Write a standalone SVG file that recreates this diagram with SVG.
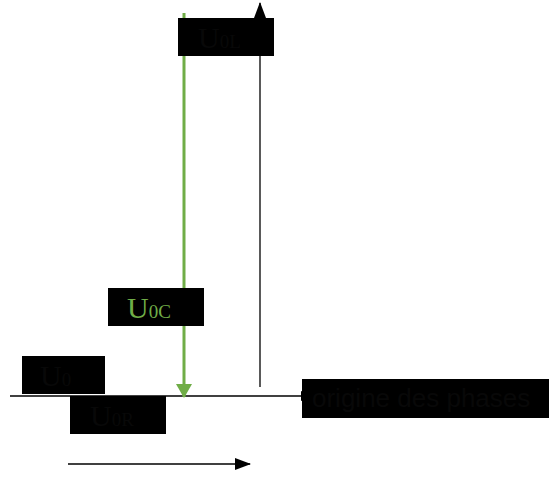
<svg xmlns="http://www.w3.org/2000/svg" width="549" height="477" viewBox="0 0 549 477">
<style>
.box{fill:#000}
.lbl{font-family:"Liberation Serif","Times New Roman",serif;font-size:30px;fill:#080808}
.sub{font-size:19px}
.sans{font-family:"Liberation Sans",Arial,sans-serif;font-size:26px;fill:#080808}
.ln{stroke:#000;stroke-width:1.3;fill:none}
.gr{stroke:#70AD47;stroke-width:3;fill:none}
</style>
<defs>
<marker id="ab" markerWidth="12" markerHeight="10" refX="11" refY="5" orient="auto" markerUnits="userSpaceOnUse"><path d="M0,0 L12,5 L0,10 Z" fill="#000"/></marker>
<marker id="ab2" markerWidth="16" markerHeight="12" refX="15" refY="6" orient="auto" markerUnits="userSpaceOnUse"><path d="M0,0 L16,6 L0,12 Z" fill="#000"/></marker>
<marker id="ag" markerWidth="14" markerHeight="16" refX="13" refY="8" orient="auto" markerUnits="userSpaceOnUse"><path d="M0,0 L14,8 L0,16 Z" fill="#70AD47"/></marker>
</defs>
<g id="connectors">
<line class="ln" x1="260" y1="387" x2="260" y2="3" marker-end="url(#ab2)"/>
<line class="ln" x1="10" y1="396" x2="312" y2="396" marker-end="url(#ab)"/>
<line class="ln" x1="68" y1="464" x2="250" y2="464" marker-end="url(#ab2)"/>
<line class="gr" x1="184" y1="13" x2="184" y2="397" marker-end="url(#ag)"/>
</g>
<g id="n-top"><rect class="box" x="178" y="18" width="96" height="38"/><text class="lbl" x="198" y="48">U<tspan class="sub">0L</tspan></text></g>
<g id="n-u0c"><rect class="box" x="108" y="288" width="96" height="38"/><text class="lbl" x="127" y="318" style="fill:#70AD47">U<tspan class="sub">0C</tspan></text></g>
<g id="n-left"><rect class="box" x="22" y="356" width="83" height="38"/><text class="lbl" x="40" y="386">U<tspan class="sub">0</tspan></text></g>
<g id="n-bottom"><rect class="box" x="70" y="396" width="96" height="38"/><text class="lbl" x="90" y="426">U<tspan class="sub">0R</tspan></text></g>
<g id="n-origin"><rect class="box" x="302" y="379" width="247" height="39"/><text class="sans" x="312" y="407">origine des phases</text></g>
</svg>
